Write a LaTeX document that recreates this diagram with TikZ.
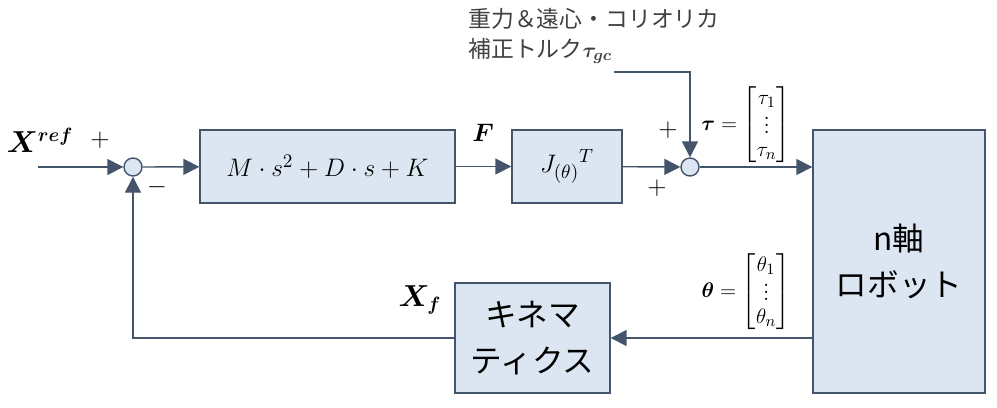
\documentclass[tikz,border=0pt]{standalone}
\usepackage{amsmath}
\usepackage{fontspec}
\newfontfamily\jp{Noto Sans CJK JP}
\usetikzlibrary{positioning}
\usetikzlibrary{arrows.meta}
\definecolor{lineC}{HTML}{44546A}
\definecolor{boxC}{HTML}{DCE6F2}
\begin{document}
\begin{tikzpicture}[
        x=0.02cm, y=-0.02cm,
        blk/.style={rectangle, draw=lineC, fill=boxC, thick, align=center, inner sep=0pt},
        jpbig/.style={font=\jp\fontsize{18}{26}\selectfont},
        sum/.style={circle, draw=lineC, fill=boxC, thick, minimum size=0.36cm, inner sep=0pt},
        sig/.style={draw=lineC, thick, -{Triangle[length=3.2mm, width=3.2mm]}},
        ]
            \useasboundingbox (0,0) rectangle (997,407);
            \node[sum] (S1) at (133,167) {};
            \node[sum] (S2) at (690,167) {};
            \node[blk, minimum width=5.1cm, minimum height=1.46cm] (MDK) at (327.5,166.5) {\fontsize{15}{18}\selectfont $M\cdot s^2+D\cdot s+K$};
            \node[blk, minimum width=2.2cm, minimum height=1.46cm] (J) at (567,166.5) {\fontsize{15}{18}\selectfont ${J_{(\theta)}}^{T}$};
            \node[blk, jpbig, minimum width=3.44cm, minimum height=5.26cm] (R) at (899,261.5) {n軸\\ロボット};
            \node[blk, jpbig, minimum width=3.1cm, minimum height=2.2cm] (K) at (532.5,338) {キネマ\\ティクス};
            \coordinate (in) at (38,167);
            \coordinate (gc) at (614,72);
            % signal labels
            \node at (40,140) {\fontsize{16}{18}\selectfont $\boldsymbol{X^{ref}}$};
            \node at (100,140) {\fontsize{14}{16}\selectfont $+$};
            \node at (157,187) {\fontsize{14}{16}\selectfont $-$};
            \node at (483,133) {\fontsize{15}{18}\selectfont $\boldsymbol{F}$};
            \node at (668,130) {\fontsize{14}{16}\selectfont $+$};
            \node at (657,188) {\fontsize{14}{16}\selectfont $+$};
            \node at (746,125) {\fontsize{13}{15}\selectfont $\boldsymbol{\tau}=\begin{bmatrix}\tau_1\\[-3pt] \vdots\\[-2pt] \tau_n\end{bmatrix}$};
            \node at (746,292) {\fontsize{13}{15}\selectfont $\boldsymbol{\theta}=\begin{bmatrix}\theta_1\\[-3pt] \vdots\\[-2pt] \theta_n\end{bmatrix}$};
            \node at (420,300) {\fontsize{16}{18}\selectfont $\boldsymbol{X_f}$};
            \node[anchor=west, align=left, inner sep=0pt, font=\jp\fontsize{13}{17}\selectfont, text=black!75] at (468,36) {重力＆遠心・コリオリカ\\補正トルク$\boldsymbol{\tau_{gc}}$};
            % connectors
            \draw[sig] (in) -- (S1);
            \draw[sig] (S1) -- (MDK);
            \draw[sig] (MDK) -- (J);
            \draw[sig] (J) -- (S2);
            \draw[sig] (S2) -- (S2 -| R.west);
            \draw[sig] (gc) -| (S2);
            \draw[sig] (K.east -| R.west) -- (K.east);
            \draw[sig] (K.west) -| (S1);
        \end{tikzpicture}
\end{document}
